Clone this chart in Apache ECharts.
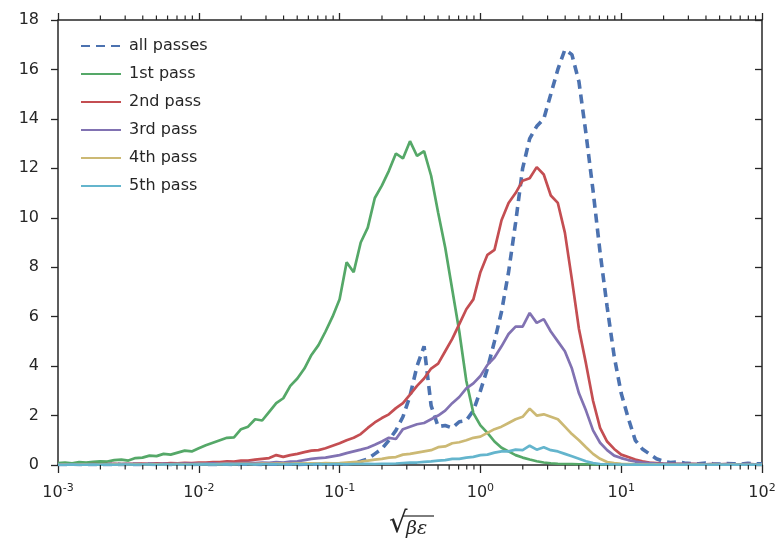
<!DOCTYPE html>
<html>
<head>
<meta charset="utf-8">
<script src="https://cdn.jsdelivr.net/npm/echarts@6/dist/echarts.min.js"></script>
<style>
  html, body { margin: 0; padding: 0; background: #ffffff; }
  #chart { width: 781px; height: 547px; }
</style>
</head>
<body>
<div id="chart"></div>
<script>
// Histogram bins: 20 per decade, from 1e-3 to 1e2 (bin centres on a log grid)
const logStart = -3;
const logStep = 0.05;
const binCount = 101;
const binCentres = Array.from({ length: binCount }, (_, i) => Math.pow(10, logStart + logStep * i));

const seriesNames = ['all passes', '1st pass', '2nd pass', '3rd pass', '4th pass', '5th pass'];
const seriesColors = ['#4C72B0', '#55A868', '#C44E52', '#8172B2', '#CCB974', '#64B5CD'];

const allPasses = [
  0.02, 0.02, 0.03, 0.02, 0.02, 0.03, 0.02, 0.02, 0.03, 0.02,
  0.02, 0.03, 0.02, 0.03, 0.02, 0.03, 0.02, 0.03, 0.03, 0.02,
  0.03, 0.03, 0.02, 0.03, 0.03, 0.02, 0.03, 0.03, 0.03, 0.02,
  0.03, 0.03, 0.03, 0.03, 0.02, 0.03, 0.03, 0.03, 0.04, 0.03,
  0.04, 0.05, 0.08, 0.15, 0.25, 0.45, 0.65, 1.00, 1.40, 1.95,
  2.80, 4.00, 4.80, 2.40, 1.55, 1.60, 1.50, 1.75, 1.80, 2.20,
  3.00, 3.90, 5.00, 6.20, 7.80, 9.80, 12.00, 13.20, 13.70, 14.00,
  15.00, 16.00, 16.80, 16.60, 15.50, 13.40, 11.10, 8.60, 6.40, 4.40,
  2.90, 1.90, 1.00, 0.65, 0.45, 0.25, 0.15, 0.10, 0.12, 0.08,
  0.06, 0.05, 0.08, 0.05, 0.04, 0.06, 0.05, 0.04, 0.07, 0.05,
  0.05
];

const firstPass = [
  0.08, 0.10, 0.07, 0.12, 0.10, 0.13, 0.15, 0.14, 0.20, 0.22,
  0.18, 0.28, 0.30, 0.38, 0.36, 0.45, 0.42, 0.50, 0.58, 0.55,
  0.68, 0.80, 0.90, 1.00, 1.10, 1.12, 1.45, 1.55, 1.85, 1.80,
  2.15, 2.50, 2.70, 3.20, 3.50, 3.90, 4.45, 4.85, 5.40, 6.00,
  6.70, 8.20, 7.80, 9.00, 9.60, 10.80, 11.30, 11.90, 12.60, 12.40,
  13.10, 12.50, 12.70, 11.70, 10.20, 8.80, 7.10, 5.40, 3.40, 2.10,
  1.60, 1.30, 0.95, 0.70, 0.55, 0.40, 0.30, 0.22, 0.15, 0.10,
  0.07, 0.05, 0.04, 0.04, 0.03, 0.03, 0.02, 0.03, 0.02, 0.02,
  0.01, 0.02, 0.01, 0.01, 0.02, 0.01, 0.01, 0.01, 0.02, 0.01,
  0.01, 0.01, 0.01, 0.01, 0.01, 0.01, 0.01, 0.01, 0.01, 0.01,
  0.01
];

const secondPass = [
  0.02, 0.03, 0.02, 0.03, 0.03, 0.04, 0.03, 0.04, 0.05, 0.04,
  0.05, 0.05, 0.06, 0.05, 0.07, 0.06, 0.08, 0.07, 0.09, 0.08,
  0.10, 0.10, 0.12, 0.12, 0.15, 0.14, 0.18, 0.18, 0.22, 0.25,
  0.28, 0.40, 0.33, 0.40, 0.45, 0.52, 0.58, 0.60, 0.68, 0.78,
  0.88, 1.00, 1.10, 1.25, 1.50, 1.72, 1.90, 2.05, 2.30, 2.50,
  2.85, 3.20, 3.50, 3.90, 4.10, 4.60, 5.10, 5.70, 6.30, 6.70,
  7.80, 8.50, 8.70, 9.90, 10.60, 11.00, 11.50, 11.60, 12.05, 11.75,
  10.90, 10.60, 9.40, 7.50, 5.50, 4.10, 2.60, 1.50, 0.95, 0.65,
  0.42, 0.32, 0.22, 0.15, 0.10, 0.08, 0.06, 0.05, 0.05, 0.04,
  0.05, 0.04, 0.03, 0.04, 0.03, 0.04, 0.03, 0.03, 0.04, 0.03,
  0.03
];

const thirdPass = [
  0.02, 0.02, 0.03, 0.02, 0.03, 0.03, 0.02, 0.03, 0.04, 0.03,
  0.04, 0.04, 0.03, 0.05, 0.04, 0.05, 0.04, 0.05, 0.06, 0.05,
  0.06, 0.06, 0.07, 0.06, 0.08, 0.07, 0.08, 0.09, 0.08, 0.10,
  0.09, 0.12, 0.10, 0.14, 0.15, 0.20, 0.25, 0.28, 0.30, 0.35,
  0.40, 0.48, 0.55, 0.62, 0.70, 0.82, 0.95, 1.10, 1.05, 1.45,
  1.55, 1.65, 1.70, 1.85, 2.00, 2.20, 2.50, 2.75, 3.10, 3.30,
  3.60, 4.05, 4.35, 4.80, 5.30, 5.60, 5.60, 6.15, 5.75, 5.90,
  5.40, 5.00, 4.60, 3.90, 2.90, 2.20, 1.40, 0.90, 0.60, 0.38,
  0.28, 0.20, 0.14, 0.10, 0.08, 0.06, 0.05, 0.05, 0.04, 0.05,
  0.04, 0.04, 0.03, 0.04, 0.03, 0.04, 0.03, 0.03, 0.04, 0.03,
  0.03
];

const fourthPass = [
  0.01, 0.02, 0.01, 0.02, 0.02, 0.01, 0.02, 0.02, 0.03, 0.02,
  0.02, 0.03, 0.02, 0.03, 0.03, 0.02, 0.03, 0.04, 0.03, 0.03,
  0.04, 0.04, 0.03, 0.04, 0.05, 0.04, 0.05, 0.05, 0.04, 0.06,
  0.05, 0.06, 0.06, 0.05, 0.07, 0.06, 0.07, 0.06, 0.08, 0.07,
  0.08, 0.10, 0.12, 0.14, 0.18, 0.22, 0.25, 0.30, 0.32, 0.42,
  0.45, 0.50, 0.55, 0.60, 0.72, 0.75, 0.88, 0.92, 1.00, 1.10,
  1.15, 1.30, 1.45, 1.55, 1.70, 1.85, 1.95, 2.28, 2.00, 2.05,
  1.95, 1.85, 1.55, 1.25, 1.00, 0.72, 0.45, 0.25, 0.12, 0.08,
  0.05, 0.04, 0.03, 0.03, 0.02, 0.03, 0.02, 0.02, 0.02, 0.01,
  0.02, 0.02, 0.01, 0.02, 0.01, 0.01, 0.02, 0.01, 0.01, 0.01,
  0.01
];

const fifthPass = [
  0.01, 0.01, 0.02, 0.01, 0.01, 0.02, 0.01, 0.02, 0.01, 0.02,
  0.02, 0.01, 0.02, 0.02, 0.01, 0.02, 0.02, 0.02, 0.01, 0.02,
  0.02, 0.03, 0.02, 0.02, 0.03, 0.02, 0.03, 0.03, 0.02, 0.03,
  0.03, 0.03, 0.02, 0.03, 0.04, 0.03, 0.03, 0.04, 0.03, 0.04,
  0.04, 0.03, 0.04, 0.04, 0.05, 0.04, 0.05, 0.05, 0.06, 0.08,
  0.10, 0.10, 0.13, 0.15, 0.18, 0.20, 0.25, 0.25, 0.30, 0.33,
  0.40, 0.42, 0.50, 0.55, 0.55, 0.62, 0.60, 0.78, 0.62, 0.72,
  0.60, 0.55, 0.45, 0.35, 0.25, 0.15, 0.08, 0.04, 0.03, 0.02,
  0.02, 0.01, 0.02, 0.01, 0.01, 0.01, 0.02, 0.01, 0.01, 0.01,
  0.01, 0.01, 0.01, 0.01, 0.01, 0.01, 0.01, 0.01, 0.01, 0.01,
  0.01
];

const seriesValues = [allPasses, firstPass, secondPass, thirdPass, fourthPass, fifthPass];

// Axis settings
const xMin = 0.001;
const xMax = 100;
const yMin = 0;
const yMax = 18;
const yStep = 2;
// Minor log ticks (2..9 within each decade)
const minorTickValues = [];
for (let d = -3; d < 2; d++) {
  for (let m = 2; m <= 9; m++) minorTickValues.push(m * Math.pow(10, d));
}

const ink = '#262626';
const chart = echarts.init(document.getElementById('chart'), null, { renderer: 'canvas' });

const lineSeries = seriesNames.map((name, k) => ({
  name: name,
  type: 'line',
  xAxisIndex: 0,
  yAxisIndex: 0,
  data: binCentres.map((x, i) => [x, seriesValues[k][i]]),
  symbol: 'none',
  showSymbol: false,
  z: 2 + k,
  lineStyle: k === 0
    ? { color: seriesColors[k], width: 3.6, type: [9, 6], cap: 'butt' }
    : { color: seriesColors[k], width: 2.7 },
  itemStyle: { color: seriesColors[k] },
  animation: false
}));

const minorTicks = {
  type: 'custom',
  name: 'minor ticks',
  xAxisIndex: 0,
  yAxisIndex: 0,
  clip: false,
  silent: true,
  z: 20,
  data: minorTickValues.map(v => [v, yMin]),
  renderItem: function (params, api) {
    const bottom = api.coord([api.value(0), yMin]);
    const top = api.coord([api.value(0), yMax]);
    const style = { stroke: ink, lineWidth: 1.2 };
    return {
      type: 'group',
      children: [
        { type: 'line', shape: { x1: bottom[0], y1: bottom[1], x2: bottom[0], y2: bottom[1] + 4.5 }, style: style },
        { type: 'line', shape: { x1: top[0], y1: top[1], x2: top[0], y2: top[1] - 4.5 }, style: style }
      ]
    };
  },
  animation: false
};

const axisLineStyle = { color: ink, width: 1.5 };
const font = 'DejaVu Sans';

const option = {
  backgroundColor: '#ffffff',
  animation: false,
  grid: { left: 58, right: 19, top: 20, bottom: 82, containLabel: false },
  legend: {
    data: seriesNames,
    orient: 'vertical',
    left: 75,
    top: 32,
    itemWidth: 40,
    itemHeight: 18,
    itemGap: 10,
    // only the line sample is shown in each legend key
    itemStyle: { opacity: 0 },
    textStyle: { fontFamily: font, fontSize: 16, color: ink, lineHeight: 18, padding: [0, 0, 0, 3] },
    selectedMode: false
  },
  xAxis: [
    {
      type: 'log',
      logBase: 10,
      min: xMin,
      max: xMax,
      position: 'bottom',
      axisLine: { show: true, onZero: false, lineStyle: axisLineStyle },
      axisTick: { show: true, inside: false, length: 8, lineStyle: { color: ink, width: 1.3 } },
      splitLine: { show: false },
      axisLabel: {
        margin: 18,
        color: ink,
        fontFamily: font,
        fontSize: 16,
        formatter: function (v) {
          const e = Math.round(Math.log10(v));
          return '10{s|' + e + '}';
        },
        rich: {
          s: { fontFamily: font, fontSize: 11, color: ink, padding: [0, 0, 9, 0] }
        }
      }
    },
    {
      type: 'log',
      logBase: 10,
      min: xMin,
      max: xMax,
      position: 'top',
      axisLine: { show: true, onZero: false, lineStyle: axisLineStyle },
      axisTick: { show: true, inside: false, length: 7, lineStyle: { color: ink, width: 1.3 } },
      axisLabel: { show: false },
      splitLine: { show: false }
    }
  ],
  yAxis: [
    {
      type: 'value',
      min: yMin,
      max: yMax,
      interval: yStep,
      position: 'left',
      axisLine: { show: true, onZero: false, lineStyle: axisLineStyle },
      axisTick: { show: true, inside: false, length: 7, lineStyle: { color: ink, width: 1.3 } },
      splitLine: { show: false },
      axisLabel: { margin: 19, color: ink, fontFamily: font, fontSize: 16 }
    },
    {
      type: 'value',
      min: yMin,
      max: yMax,
      interval: yStep,
      position: 'right',
      axisLine: { show: true, onZero: false, lineStyle: axisLineStyle },
      axisTick: { show: true, inside: true, length: 7, lineStyle: { color: ink, width: 1.3 } },
      splitLine: { show: false },
      axisLabel: { show: false }
    }
  ],
  graphic: [
    {
      type: 'group',
      left: 389,
      top: 510,
      children: [
        { type: 'text', x: 0, y: 0, style: { text: '√', fontFamily: font, fontSize: 29, fill: ink } },
        { type: 'line', shape: { x1: 14, y1: 6, x2: 45, y2: 6 }, style: { stroke: ink, lineWidth: 1.2 } },
        { type: 'text', x: 17, y: 10, style: { text: 'βε', fontFamily: 'DejaVu Serif', fontStyle: 'italic', fontSize: 19, fill: ink } }
      ]
    }
  ],
  series: lineSeries.concat([minorTicks])
};

chart.setOption(option);
</script>
</body>
</html>
